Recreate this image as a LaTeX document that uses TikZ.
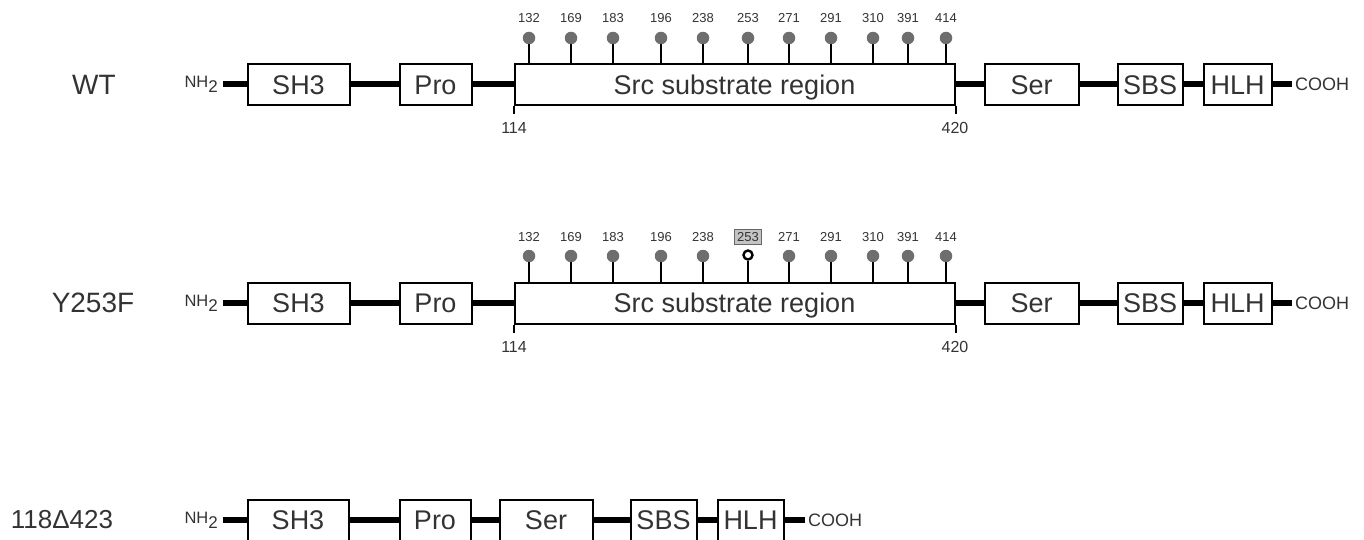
\documentclass[tikz,border=0pt]{standalone}
\usepackage{fontspec}
\setmainfont{Liberation Sans}
\definecolor{txt}{HTML}{333333}
\definecolor{pin}{HTML}{6E6E6E}
\definecolor{hl}{HTML}{C4C4C4}
\begin{document}
\begin{tikzpicture}[x=1pt,y=-1pt,
  dom/.style={draw=black, line width=2pt, fill=white, minimum height=41pt, inner sep=0pt, text height=19.3pt, text depth=0pt, text=txt, font=\fontsize{27}{27}\selectfont},
  bb/.style={line width=6pt, black},
  lab/.style={text=txt, font=\fontsize{28}{28}\selectfont, inner sep=0pt},
  nh/.style={text=txt, font=\fontsize{16.5}{16.5}\selectfont, inner xsep=5pt, inner ysep=0pt, anchor=east},
  cooh/.style={text=txt, font=\fontsize{18}{18}\selectfont, inner xsep=3pt, inner ysep=0pt, anchor=west},
  numlab/.style={text=txt, font=\fontsize{13}{13}\selectfont, inner sep=0pt},
  poslab/.style={text=txt, font=\fontsize{16}{16}\selectfont, inner sep=0pt},
  ball/.style={circle, fill=pin, minimum size=12.5pt, inner sep=0pt},
  openball/.style={circle, draw=black, line width=2.4pt, fill=white, minimum size=9pt, inner sep=0pt},
  stem/.style={line width=1.6pt, pin},
  tick/.style={line width=2pt, black},
  hlbox/.style={fill=hl, draw=black!60, line width=0.8pt, inner xsep=3pt, inner ysep=2.5pt}
]
\useasboundingbox (0,0) rectangle (1364,540);
\clip (0,0) rectangle (1364,540);

% ---------------- Row 1: WT ----------------
\node[lab] (l1) at (94,84.5) {WT};
\node[nh] (nh1) at (223,84.5) {NH\raisebox{-5pt}{\fontsize{17}{17}\selectfont 2}};
\node[dom, minimum width=102pt] (sh1) at (298.5,84.5) {SH3};
\node[dom, minimum width=72pt] (pro1) at (435.5,84.5) {Pro};
\node[dom, minimum width=440pt] (src1) at (734.5,84.5) {Src substrate region};
\node[dom, minimum width=94pt] (ser1) at (1031.5,84.5) {Ser};
\node[dom, minimum width=65pt] (sbs1) at (1150,84.5) {SBS};
\node[dom, minimum width=68pt] (hlh1) at (1237.5,84.5) {HLH};
\node[cooh] (co1) at (1292,84.5) {COOH};
\draw[bb] (nh1.east) -- (sh1.west);
\draw[bb] (sh1.east) -- (pro1.west);
\draw[bb] (pro1.east) -- (src1.west);
\draw[bb] (src1.east) -- (ser1.west);
\draw[bb] (ser1.east) -- (sbs1.west);
\draw[bb] (sbs1.east) -- (hlh1.west);
\draw[bb] (hlh1.east) -- (co1.west);
\coordinate (t1a) at ([yshift=-8pt]src1.south west);
\coordinate (t1b) at ([yshift=-8pt]src1.south east);
\draw[tick] (src1.south west) -- (t1a);
\draw[tick] (src1.south east) -- (t1b);
\node[poslab] (p1a) at (514,128) {114};
\node[poslab] (p1b) at (955,128) {420};
\foreach \x/\n in {529/132,571/169,613/183,661/196,703/238,748/253,789/271,831/291,873/310,908/391,946/414}{
  \node[ball] (b1-\n) at (\x,38) {};
  \draw[stem] (b1-\n.south) -- (b1-\n |- src1.north);
  \node[numlab] (n1-\n) at (\x,18) {\n};
}

% ---------------- Row 2: Y253F ----------------
\node[lab] (l2) at (93,303) {Y253F};
\node[nh] (nh2) at (223,303) {NH\raisebox{-5pt}{\fontsize{17}{17}\selectfont 2}};
\node[dom, minimum width=102pt] (sh2) at (298.5,303) {SH3};
\node[dom, minimum width=72pt] (pro2) at (435.5,303) {Pro};
\node[dom, minimum width=440pt] (src2) at (734.5,303) {Src substrate region};
\node[dom, minimum width=94pt] (ser2) at (1031.5,303) {Ser};
\node[dom, minimum width=65pt] (sbs2) at (1150,303) {SBS};
\node[dom, minimum width=68pt] (hlh2) at (1237.5,303) {HLH};
\node[cooh] (co2) at (1292,303) {COOH};
\draw[bb] (nh2.east) -- (sh2.west);
\draw[bb] (sh2.east) -- (pro2.west);
\draw[bb] (pro2.east) -- (src2.west);
\draw[bb] (src2.east) -- (ser2.west);
\draw[bb] (ser2.east) -- (sbs2.west);
\draw[bb] (sbs2.east) -- (hlh2.west);
\draw[bb] (hlh2.east) -- (co2.west);
\coordinate (t2a) at ([yshift=-8pt]src2.south west);
\coordinate (t2b) at ([yshift=-8pt]src2.south east);
\draw[tick] (src2.south west) -- (t2a);
\draw[tick] (src2.south east) -- (t2b);
\node[poslab] (p2a) at (514,347) {114};
\node[poslab] (p2b) at (955,347) {420};
\foreach \x/\n in {529/132,571/169,613/183,661/196,703/238,789/271,831/291,873/310,908/391,946/414}{
  \node[ball] (b2-\n) at (\x,256) {};
  \draw[stem] (b2-\n.south) -- (b2-\n |- src2.north);
  \node[numlab] (n2-\n) at (\x,237) {\n};
}
\node[openball] (b2-253) at (748,255) {};
\draw[line width=1.6pt, black] (b2-253.south) -- (b2-253 |- src2.north);
\node[numlab, hlbox] (n2-253) at (748,237) {253};

% ---------------- Row 3: 118Δ423 ----------------
\node[lab, font=\fontsize{26}{26}\selectfont] (l3) at (62,520) {118Δ423};
\node[nh] (nh3) at (223,520) {NH\raisebox{-5pt}{\fontsize{17}{17}\selectfont 2}};
\node[dom, minimum width=101pt] (sh3) at (298,520) {SH3};
\node[dom, minimum width=71pt] (pro3) at (435,520) {Pro};
\node[dom, minimum width=93pt] (ser3) at (546,520) {Ser};
\node[dom, minimum width=66pt] (sbs3) at (663.5,520) {SBS};
\node[dom, minimum width=66pt] (hlh3) at (750.5,520) {HLH};
\node[cooh] (co3) at (805,520) {COOH};
\draw[bb] (nh3.east) -- (sh3.west);
\draw[bb] (sh3.east) -- (pro3.west);
\draw[bb] (pro3.east) -- (ser3.west);
\draw[bb] (ser3.east) -- (sbs3.west);
\draw[bb] (sbs3.east) -- (hlh3.west);
\draw[bb] (hlh3.east) -- (co3.west);
\end{tikzpicture}
\end{document}
